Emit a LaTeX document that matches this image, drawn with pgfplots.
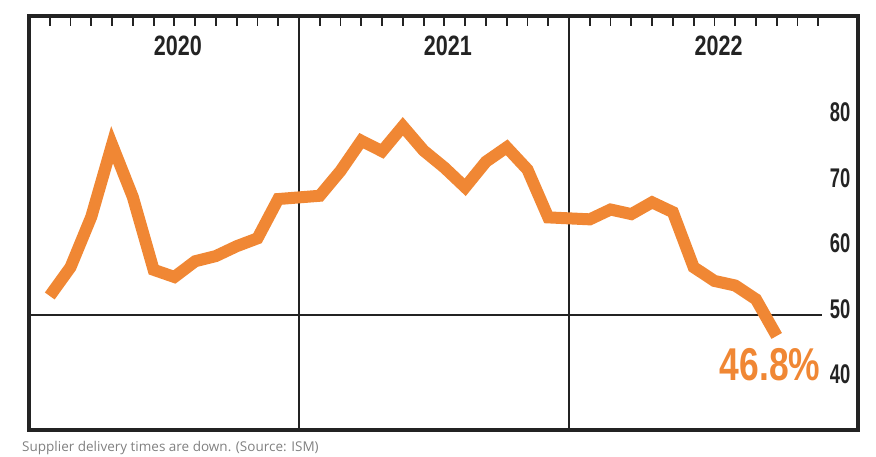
\documentclass[border=0pt]{standalone}
\usepackage{pgfplots}
\pgfplotsset{compat=1.18}
\usepackage{fontspec}
\setmainfont{Liberation Sans}
\newfontfamily\condA[FakeStretch=0.77]{Liberation Sans}
\newfontfamily\condB[FakeStretch=0.68]{Liberation Sans}
\newfontfamily\capfont{Open Sans}
\definecolor{orng}{RGB}{240,135,52}
\definecolor{frm}{RGB}{35,35,35}

\pgfplotstableread{
x v
1 52.9
2 57.3
3 65.0
4 76.0
5 68.0
6 56.9
7 55.8
8 58.2
9 59.0
10 60.5
11 61.7
12 67.7
14 68.2
15 72.0
16 76.6
17 75.0
18 78.8
19 75.1
20 72.5
21 69.5
22 73.4
23 75.6
24 72.2
25 64.9
27 64.6
28 66.1
29 65.4
30 67.2
31 65.7
32 57.3
33 55.2
34 54.5
35 52.4
36 46.8
}\ism

\begin{document}
\begin{tikzpicture}[x=1pt,y=1pt]
\path[use as bounding box] (0,0) rectangle (876,457);
\begin{axis}[
  at={(29pt,27pt)}, anchor=south west,
  scale only axis, width=828.5pt, height=413.5pt,
  xmin=0, xmax=39.89, ymin=32.44, ymax=95.57,
  axis line style={line width=4pt, draw=frm},
  xtick={1,2,3,4,5,6,7,8,9,10,11,12,14,15,16,17,18,19,20,21,22,23,24,25,27,28,29,30,31,32,33,34,35,36,37,38},
  xticklabels={},
  xtick pos=right,
  tick align=inside,
  major tick length=10pt,
  xtick style={line width=1.8pt, draw=frm},
  ytick={40,50,60,70,80},
  yticklabels={40,50,60,70,80},
  ytick pos=right,
  yticklabel pos=right,
  ytick style={draw=none},
  yticklabel style={anchor=east, xshift=-7pt, yshift=6pt, inner sep=0pt,
    font=\condB\bfseries\fontsize{27}{27}\selectfont, text=frm},
  clip=false,
]
\addplot[draw=frm, line width=2pt, forget plot] coordinates {(13,32.44) (13,95.57)};
\addplot[draw=frm, line width=2pt, forget plot] coordinates {(26,32.44) (26,95.57)};
\addplot[draw=frm, line width=2pt, forget plot] coordinates {(0,50) (38.18,50)};
\addplot[draw=orng, line width=12pt, line join=miter, line cap=butt, mark=none] table[x=x, y=v] {\ism};
\node[font=\condA\bfseries\fontsize{28}{28}\selectfont, text=frm] at (axis cs:7.17,91.1) {2020};
\node[font=\condA\bfseries\fontsize{28}{28}\selectfont, text=frm] at (axis cs:20.17,91.1) {2021};
\node[font=\condA\bfseries\fontsize{28}{28}\selectfont, text=frm] at (axis cs:33.2,91.1) {2022};
\node[font=\condA\bfseries\fontsize{46}{46}\selectfont, text=orng, inner sep=0pt] at (axis cs:35.68,42.37) {46.8\%};
\end{axis}
\node[anchor=base west, inner sep=0pt, font=\capfont\fontsize{13.5}{13.5}\selectfont, text=black!50] at (22,5) {Supplier delivery times are down. (Source: ISM)};
\end{tikzpicture}
\end{document}
